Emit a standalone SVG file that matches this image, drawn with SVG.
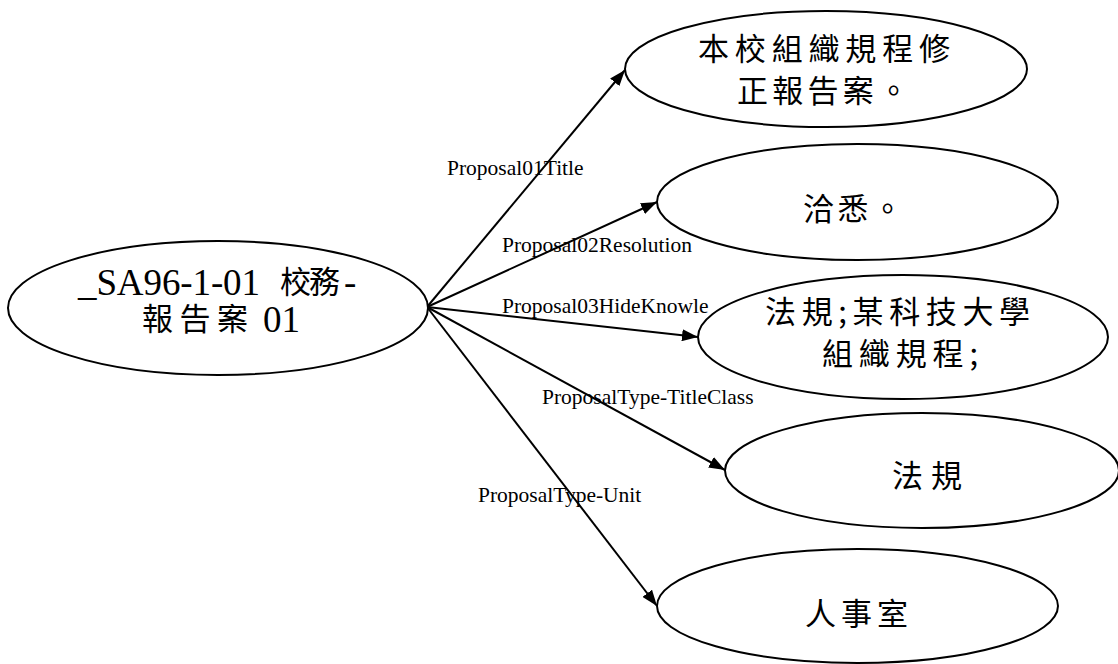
<svg xmlns="http://www.w3.org/2000/svg" width="1118" height="664" viewBox="0 0 1118 664">
<style>
.node ellipse{fill:#fff;stroke:#000;stroke-width:2}
.nt{font-family:"Noto Sans CJK TC","Noto Sans CJK SC",sans-serif;font-size:31px;fill:#000}
.lat{font-family:"Liberation Serif",serif;font-size:37px;fill:#000}
.el{font-family:"Liberation Serif",serif;font-size:21.5px;fill:#000}
.edges line{stroke:#000;stroke-width:2;marker-end:url(#arr)}
</style>
<defs>
<marker id="arr" markerUnits="userSpaceOnUse" markerWidth="16" markerHeight="12" refX="16" refY="6" orient="auto">
<path d="M0,0 L16,6 L0,12 z" fill="#000"/>
</marker>
</defs>
<rect width="1118" height="664" fill="#fff"/>
<g class="edges">
<line x1="427" y1="307" x2="625" y2="70"/>
<line x1="427" y1="307" x2="657" y2="202"/>
<line x1="427" y1="307" x2="698" y2="337"/>
<line x1="427" y1="307" x2="725" y2="470"/>
<line x1="427" y1="307" x2="657" y2="606"/>
<text class="el" x="447" y="175">Proposal01Title</text>
<text class="el" x="502" y="252">Proposal02Resolution</text>
<text class="el" x="502" y="313">Proposal03HideKnowle</text>
<text class="el" x="542" y="404">ProposalType-TitleClass</text>
<text class="el" x="478" y="502">ProposalType-Unit</text>
</g>
<g id="n0" class="node">
<ellipse cx="218" cy="308" rx="210" ry="67"/>
<text class="lat" x="78" y="295" textLength="182" lengthAdjust="spacing">_SA96-1-01</text>
<text class="nt" x="280" y="293" textLength="60" lengthAdjust="spacing">校務</text>
<text class="lat" x="344" y="295">-</text>
<text class="nt" x="142" y="330" textLength="106" lengthAdjust="spacing">報告案</text>
<text class="lat" x="263" y="332">01</text>
</g>
<g id="n1" class="node">
<ellipse cx="826" cy="69" rx="201" ry="58"/>
<text class="nt" x="698" y="60" textLength="252" lengthAdjust="spacing">本校組織規程修</text>
<text class="nt" x="737" y="102" textLength="172" lengthAdjust="spacing">正報告案。</text>
</g>
<g id="n2" class="node">
<ellipse cx="857.5" cy="202" rx="200.5" ry="58"/>
<text class="nt" x="803" y="220" textLength="100" lengthAdjust="spacing">洽悉。</text>
</g>
<g id="n3" class="node">
<ellipse cx="903" cy="337" rx="205" ry="62"/>
<text class="nt" x="765" y="323" textLength="265" lengthAdjust="spacing">法規;某科技大學</text>
<text class="nt" x="822" y="365" textLength="156" lengthAdjust="spacing">組織規程;</text>
</g>
<g id="n4" class="node">
<ellipse cx="922" cy="470.5" rx="197" ry="57.5"/>
<text class="nt" x="892" y="487" textLength="70" lengthAdjust="spacing">法規</text>
</g>
<g id="n5" class="node">
<ellipse cx="857.5" cy="606" rx="200.5" ry="57"/>
<text class="nt" x="805" y="625" textLength="103" lengthAdjust="spacing">人事室</text>
</g>
</svg>
